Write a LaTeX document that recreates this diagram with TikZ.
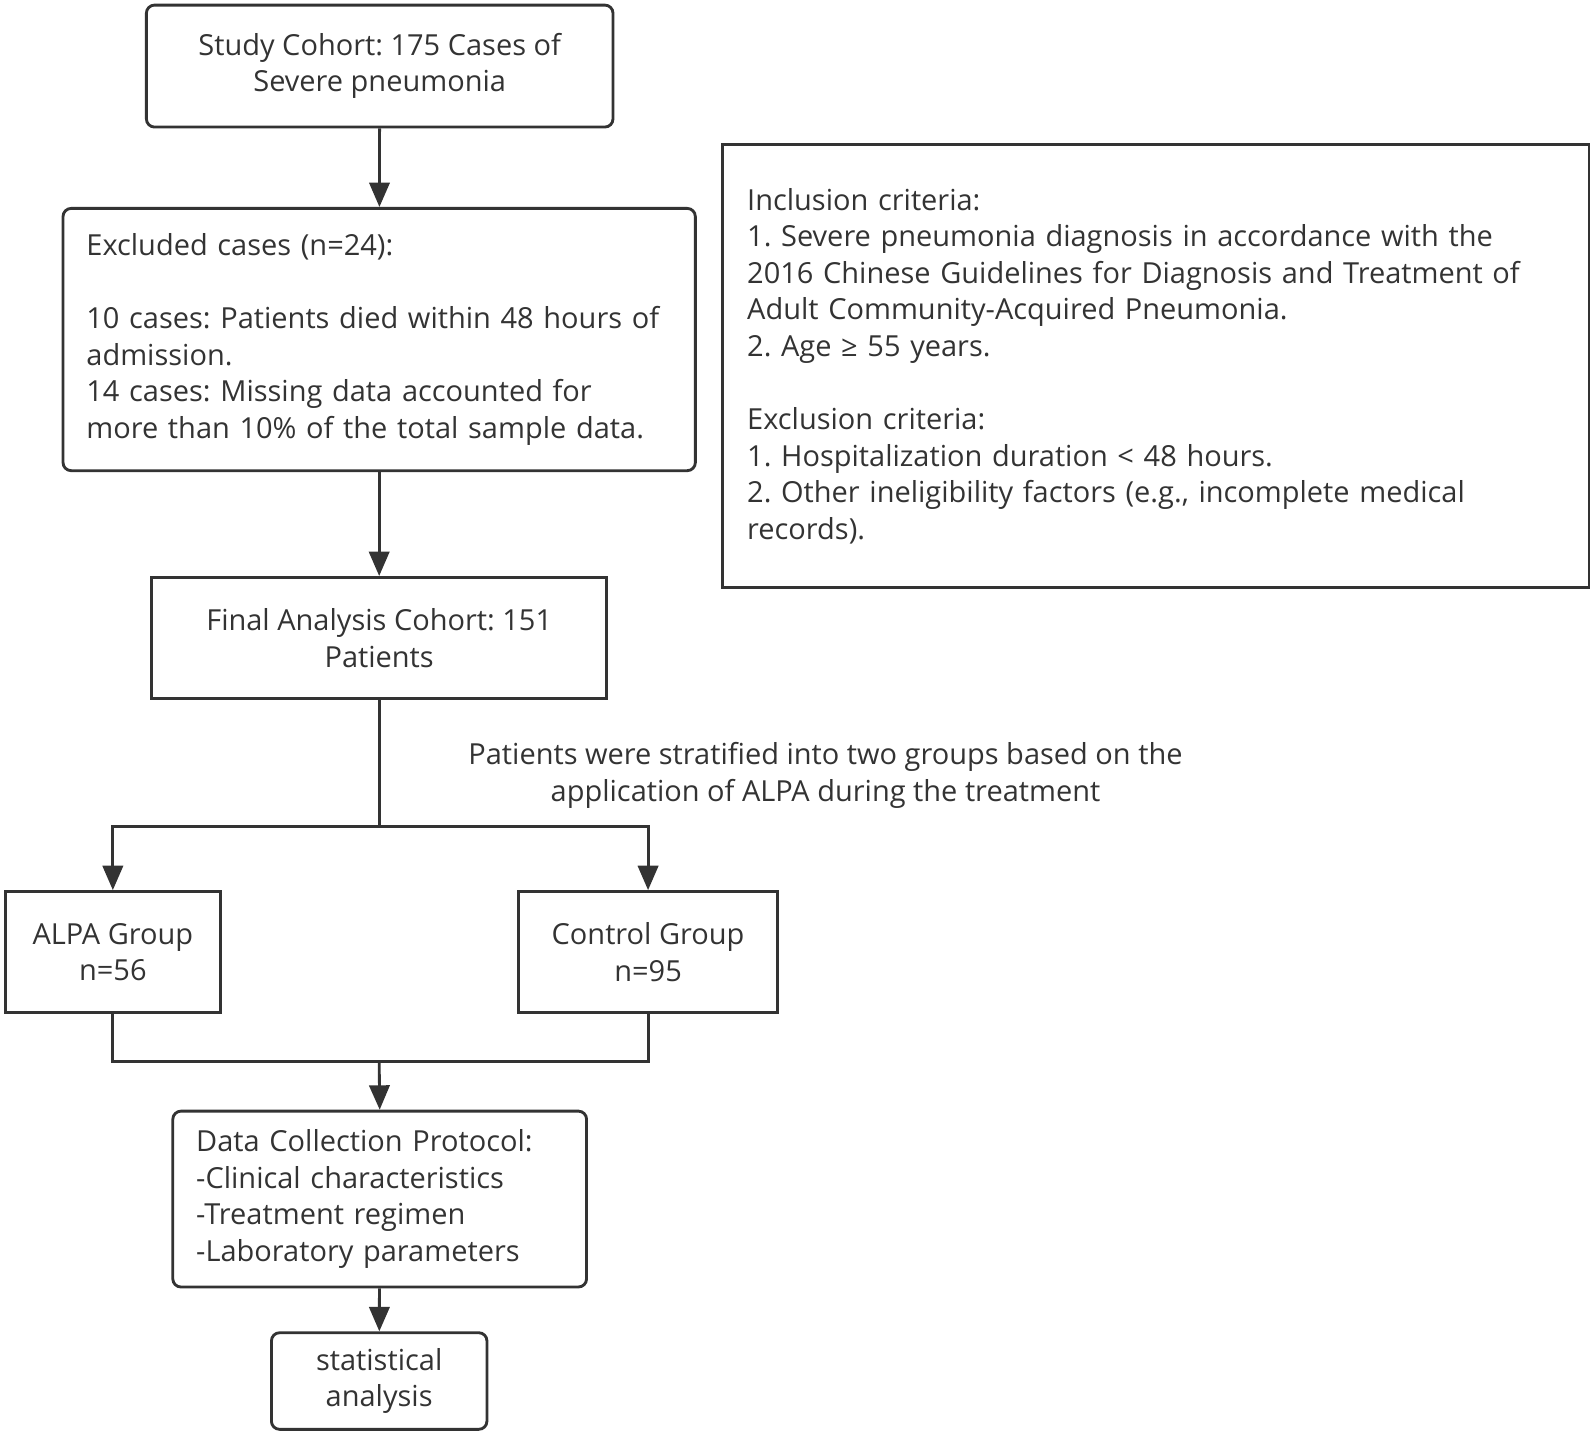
\documentclass[tikz,border=0pt]{standalone}
\usepackage{fontspec}
\setmainfont{Open Sans}
\usetikzlibrary{arrows.meta}
\definecolor{ink}{HTML}{333333}
\frenchspacing
\begin{document}
\begin{tikzpicture}[x=1pt,y=-1pt,
  txt/.style={text=ink, font=\fontsize{28.5}{36}\selectfont},
  box/.style={txt, draw=ink, line width=2.8pt, inner sep=0pt},
  rbox/.style={box, rounded corners=8pt},
  lbox/.style={align=left, inner xsep=23pt},
  ln/.style={draw=ink, line width=2.8pt},
  arr/.style={ln, -{Triangle[length=24pt,width=20pt]}}]
\useasboundingbox (0,0) rectangle (1568,1410.6);
\node[rbox, minimum width=459pt, minimum height=120pt, align=center] (cohort) at (373.5,65)
  {Study Cohort: 175 Cases of\\Severe pneumonia};
\node[rbox, lbox, text width=576pt, minimum height=258pt] (excl) at (373,334)
  {Excluded cases (n=24):\\[36pt]10 cases: Patients died within 48 hours of\\admission.\\14 cases: Missing data accounted for\\more than 10\% of the total sample data.};
\node[box, minimum width=448pt, minimum height=119pt, align=center] (final) at (373,627.5)
  {Final Analysis Cohort: 151\\Patients};
\node[box, lbox, inner xsep=24pt, text width=804pt, minimum height=436pt] (crit) at (1137,360)
  {Inclusion criteria:\\1. Severe pneumonia diagnosis in accordance with the\\2016 Chinese Guidelines for Diagnosis and Treatment of\\Adult Community-Acquired Pneumonia.\\2. Age ≥ 55 years.\\[36pt]Exclusion criteria:\\1. Hospitalization duration < 48 hours.\\2. Other ineligibility factors (e.g., incomplete medical\\records).};
\node[txt, align=center] (strat) at (812,763)
  {Patients were stratified into two groups based on the\\application of ALPA during the treatment};
\node[box, minimum width=212pt, minimum height=119pt, align=center] (alpa) at (111,936.5)
  {ALPA Group\\n=56};
\node[box, minimum width=255pt, minimum height=119pt, align=center] (ctrl) at (637.5,936.5)
  {Control Group\\n=95};
\node[rbox, lbox, text width=361pt, minimum height=173pt] (data) at (373.5,1179.5)
  {Data Collection Protocol:\\-Clinical characteristics\\-Treatment regimen\\-Laboratory parameters};
\node[rbox, minimum width=212pt, minimum height=95pt, align=center] (stat) at (373,1358.5)
  {statistical\\analysis};
\coordinate (split) at (373,813);
\coordinate (merge) at (373,1044);
\draw[arr] (cohort) -- (excl);
\draw[arr] (excl) -- (final);
\draw[arr] (final.south) -- (split) -| (alpa.north);
\draw[arr] (split) -| (ctrl.north);
\draw[ln] (alpa.south) |- (merge) -| (ctrl.south);
\draw[arr] (merge) -- (data.north);
\draw[arr] (data) -- (stat);
\end{tikzpicture}
\end{document}
